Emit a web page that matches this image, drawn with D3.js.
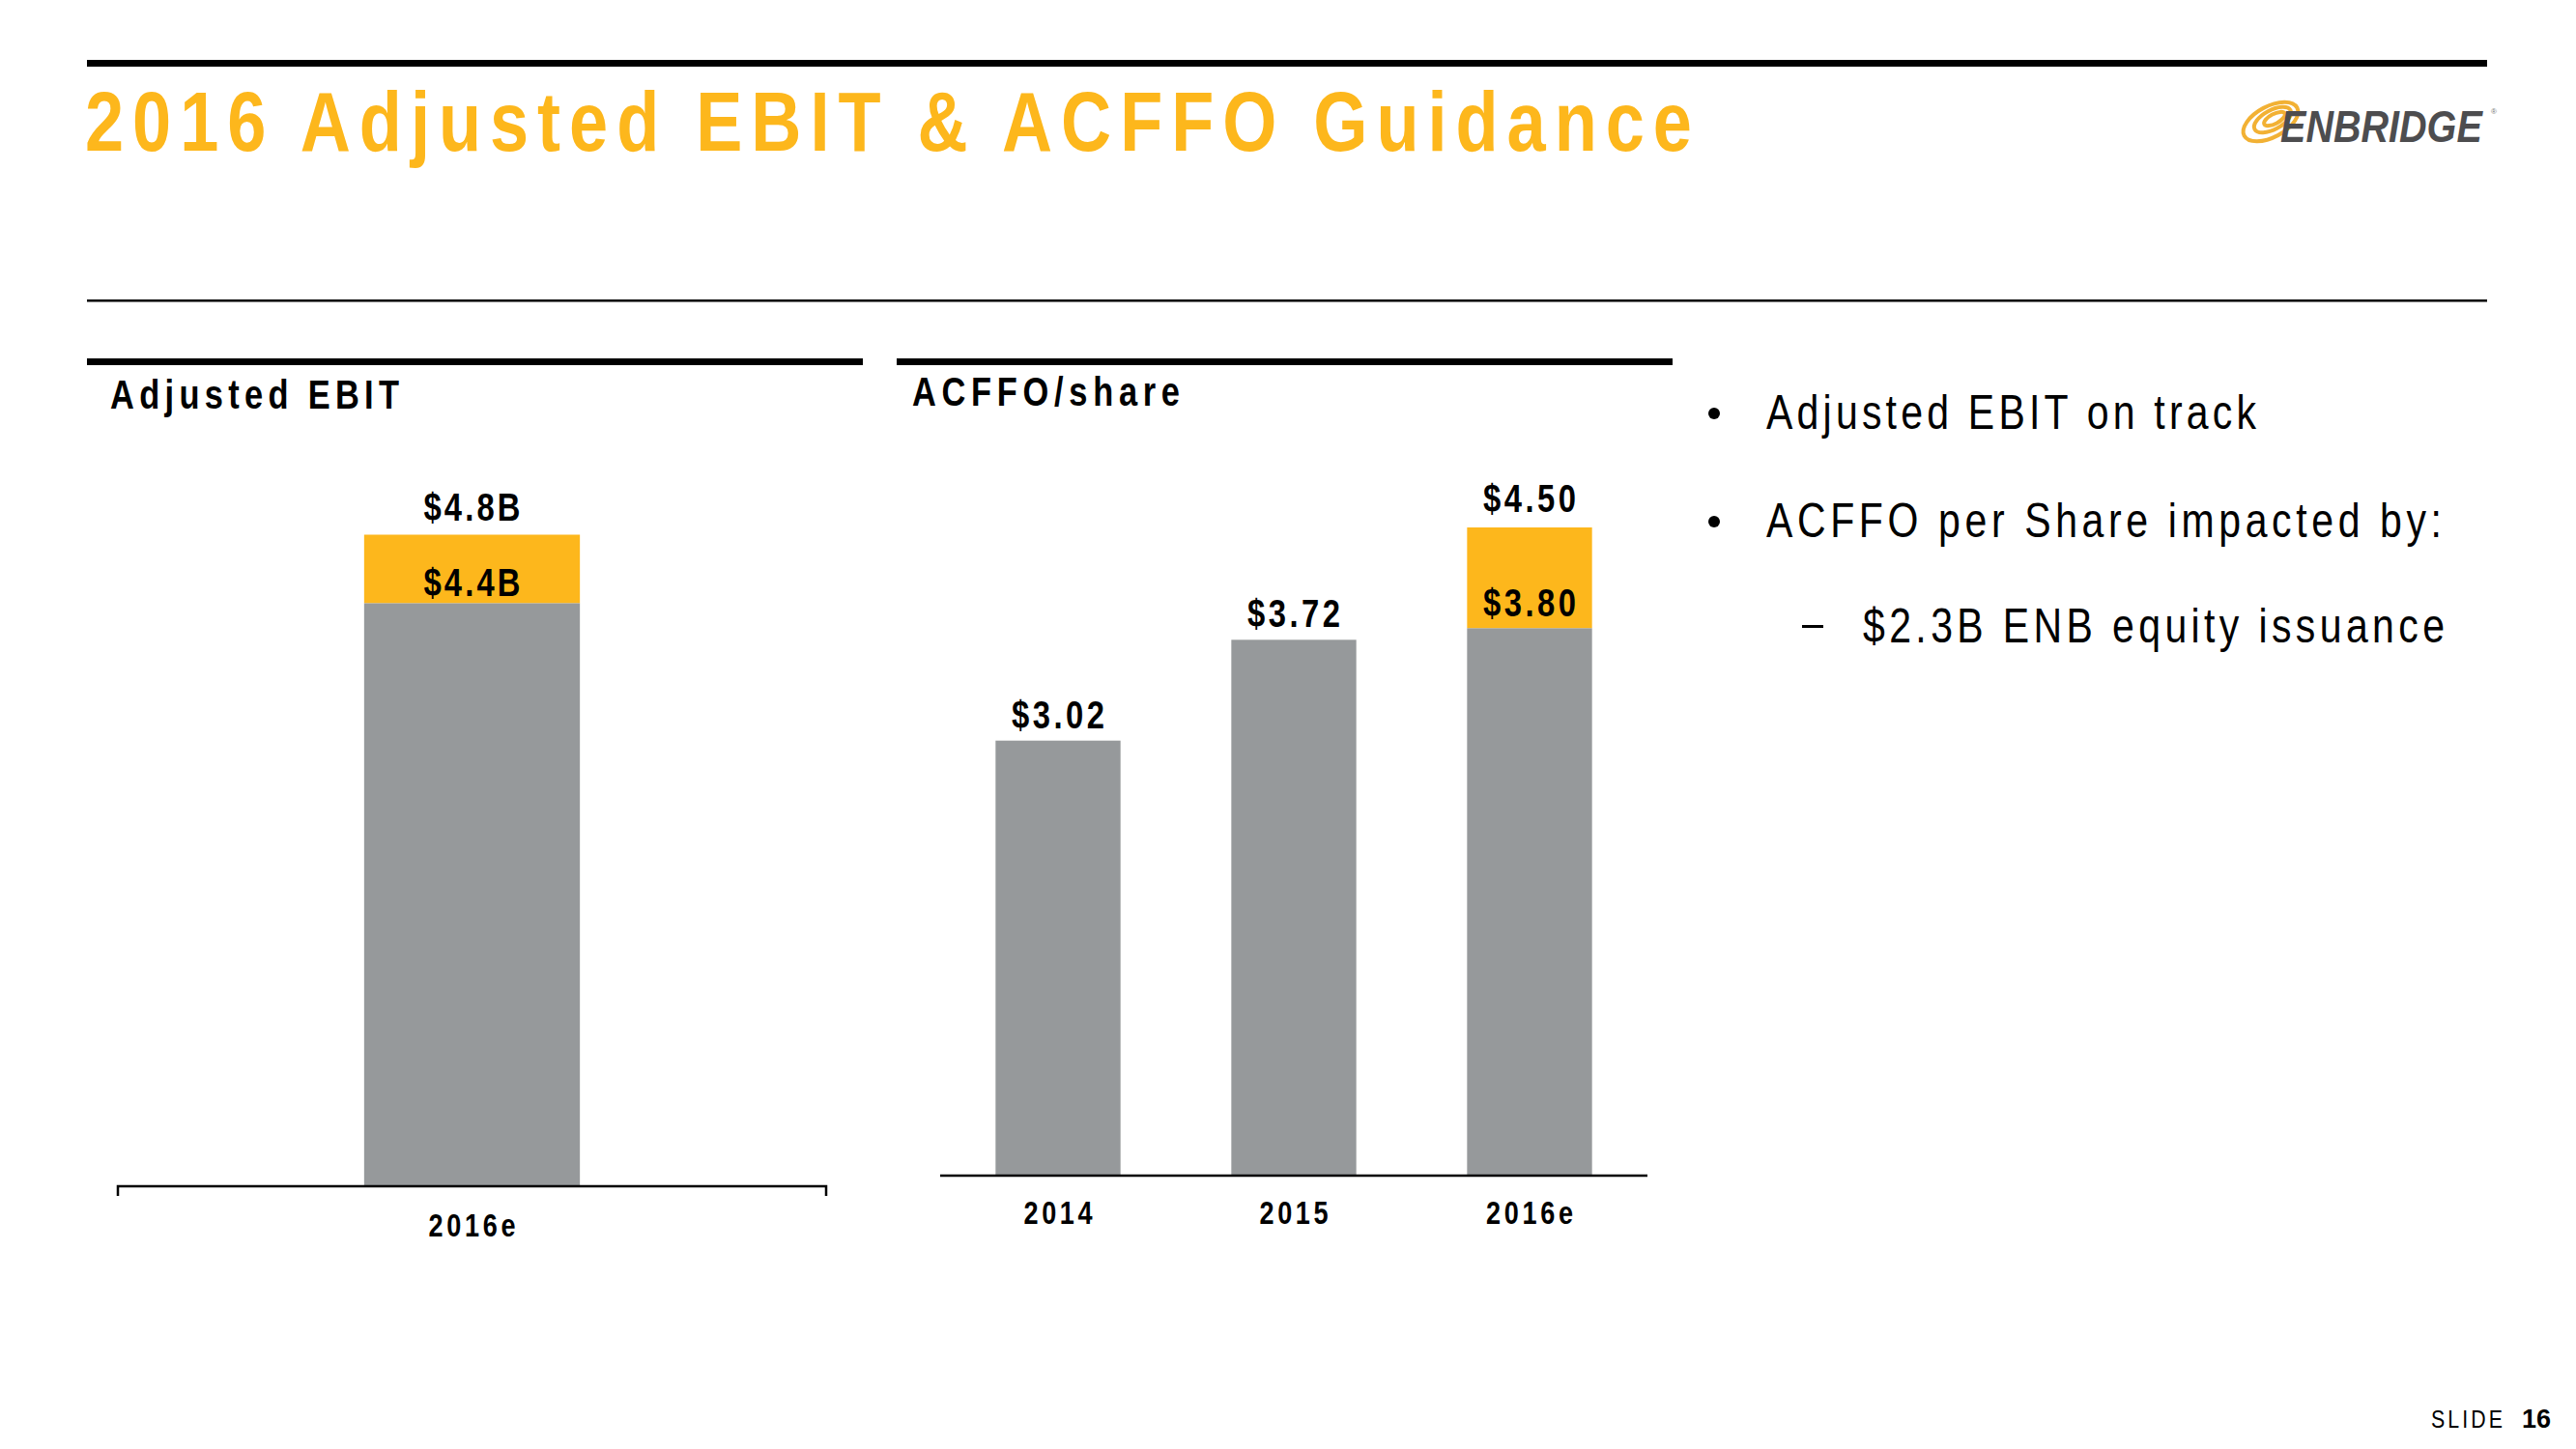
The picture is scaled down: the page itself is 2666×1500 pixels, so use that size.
<!DOCTYPE html>
<html>
<head>
<meta charset="utf-8">
<script src="https://cdn.jsdelivr.net/npm/d3@7"></script>
<style>
  html, body { margin: 0; padding: 0; background: #fff; }
  svg { display: block; }
</style>
</head>
<body>
<svg id="slide"></svg>
<script>
// Adjusted EBIT (billions)
const ebitCategories = ['2016e'];
const ebitLow = [4.4];
const ebitHigh = [4.8];
const ebitLowLabels = ['$4.4B'];
const ebitHighLabels = ['$4.8B'];

// ACFFO per share
const acffoYears = ['2014', '2015', '2016e'];
const acffoBase = [3.02, 3.72, 3.80];
const acffoHigh = [null, null, 4.50];

const bulletLines = ['Adjusted EBIT on track', 'ACFFO per Share impacted by:'];
const subBulletLines = ['$2.3B ENB equity issuance'];

const GOLD = '#FDB71C';
const GRAY = '#96999B';
const FONT = '"Liberation Sans", Arial, sans-serif';
const NARROW = 0.82;

const W = 2666, H = 1500;
const svg = d3.select('#slide').attr('width', W).attr('height', H);

// text in a condensed face with wide tracking, fitted to a width
function spacedText(parent, x, y, text, size, opts = {})
{
    const g = parent.append('g')
        .attr('transform', `translate(${ x },${ y }) scale(${ NARROW },1)`);
    const t = g.append('text')
        .attr('font-family', FONT)
        .attr('font-size', size)
        .attr('font-weight', opts.weight || 'normal')
        .attr('fill', opts.fill || '#000')
        .attr('text-anchor', opts.anchor || 'start')
        .text(text);
    if (opts.width)
    {
        t.attr('textLength', opts.width / NARROW).attr('lengthAdjust', 'spacing');
    }
    return t;
}

// rules
svg.append('rect').attr('x', 90).attr('y', 62).attr('width', 2484).attr('height', 7).attr('fill', '#000');
svg.append('rect').attr('x', 90).attr('y', 310).attr('width', 2484).attr('height', 2.5).attr('fill', '#000');

// title
spacedText(svg, 88, 156, '2016 Adjusted EBIT & ACFFO Guidance', 88, { weight: 'bold', fill: GOLD, width: 1663 });

// logo
const logo = svg.append('g');
[[2350, 126, 31, 16, -28], [2352, 124, 21, 10, -28], [2354, 123, 12, 5, -28]].forEach(([cx, cy, rx, ry, rot]) =>
{
    logo.append('ellipse')
        .attr('cx', cx).attr('cy', cy).attr('rx', rx).attr('ry', ry)
        .attr('transform', `rotate(${ rot },${ cx },${ cy })`)
        .attr('fill', 'none').attr('stroke', '#F2B134').attr('stroke-width', 4);
});
logo.append('g')
    .attr('transform', 'translate(2360,147) scale(0.86,1)')
    .append('text')
    .attr('font-family', FONT).attr('font-size', 46)
    .attr('font-weight', 'bold').attr('font-style', 'italic')
    .attr('fill', '#4D4D4F')
    .text('ENBRIDGE');
logo.append('text')
    .attr('x', 2578).attr('y', 118)
    .attr('font-family', FONT).attr('font-size', 8).attr('fill', '#777')
    .text('®');

// ---------- left chart: Adjusted EBIT ----------
svg.append('rect').attr('x', 90).attr('y', 371).attr('width', 803).attr('height', 7).attr('fill', '#000');
spacedText(svg, 114, 423, 'Adjusted EBIT', 42, { weight: 'bold', width: 299 });

const ebitX = d3.scaleBand().domain(ebitCategories).range([122, 855]).paddingInner(0.533).paddingOuter(0.533);
const ebitY = d3.scaleLinear().domain([1, 4.8]).range([1228, 553.5]);

const leftG = svg.append('g');
leftG.selectAll('rect.high')
    .data(ebitCategories)
    .join('rect')
    .attr('class', 'high')
    .attr('x', d => ebitX(d))
    .attr('width', ebitX.bandwidth())
    .attr('y', (d, i) => ebitY(ebitHigh[i]))
    .attr('height', (d, i) => ebitY(ebitLow[i]) - ebitY(ebitHigh[i]))
    .attr('fill', GOLD);
leftG.selectAll('rect.low')
    .data(ebitCategories)
    .join('rect')
    .attr('class', 'low')
    .attr('x', d => ebitX(d))
    .attr('width', ebitX.bandwidth())
    .attr('y', (d, i) => ebitY(ebitLow[i]))
    .attr('height', (d, i) => ebitY(1) - ebitY(ebitLow[i]))
    .attr('fill', GRAY);

ebitCategories.forEach((d, i) =>
{
    const cx = ebitX(d) + ebitX.bandwidth() / 2;
    spacedText(leftG, cx, ebitY(ebitHigh[i]) - 15, ebitHighLabels[i], 40, { weight: 'bold', anchor: 'middle', width: 100 });
    spacedText(leftG, cx, ebitY(ebitLow[i]) - 8, ebitLowLabels[i], 40, { weight: 'bold', anchor: 'middle', width: 100 });
});

// axis with end ticks
const leftAxis = svg.append('g').attr('transform', `translate(0,${ ebitY(1) })`);
leftAxis.append('path')
    .attr('d', `M122,10V0H855V10`)
    .attr('fill', 'none').attr('stroke', '#000').attr('stroke-width', 2.5);
ebitCategories.forEach(d =>
{
    spacedText(leftAxis, ebitX(d) + ebitX.bandwidth() / 2, 52, d, 33, { weight: 'bold', anchor: 'middle', width: 90 });
});

// ---------- right chart: ACFFO/share ----------
svg.append('rect').attr('x', 928).attr('y', 371).attr('width', 803).attr('height', 7).attr('fill', '#000');
spacedText(svg, 944, 420, 'ACFFO/share', 42, { weight: 'bold', width: 277 });

const acX = d3.scaleBand().domain(acffoYears).range([973, 1705]).paddingInner(0.47).paddingOuter(0.235);
const acY = d3.scaleLinear().domain([0, 4.5]).range([1217, 546]);

const rightG = svg.append('g');
rightG.selectAll('rect.high')
    .data(acffoYears.map((d, i) => ({ year: d, base: acffoBase[i], high: acffoHigh[i] })).filter(d => d.high !== null))
    .join('rect')
    .attr('class', 'high')
    .attr('x', d => acX(d.year))
    .attr('width', acX.bandwidth())
    .attr('y', d => acY(d.high))
    .attr('height', d => acY(d.base) - acY(d.high))
    .attr('fill', GOLD);
rightG.selectAll('rect.base')
    .data(acffoYears)
    .join('rect')
    .attr('class', 'base')
    .attr('x', d => acX(d))
    .attr('width', acX.bandwidth())
    .attr('y', (d, i) => acY(acffoBase[i]))
    .attr('height', (d, i) => acY(0) - acY(acffoBase[i]))
    .attr('fill', GRAY);

acffoYears.forEach((d, i) =>
{
    const cx = acX(d) + acX.bandwidth() / 2;
    if (acffoHigh[i] !== null)
    {
        spacedText(rightG, cx, acY(acffoHigh[i]) - 16, '$' + acffoHigh[i].toFixed(2), 40, { weight: 'bold', anchor: 'middle', width: 96 });
        spacedText(rightG, cx, acY(acffoBase[i]) - 12, '$' + acffoBase[i].toFixed(2), 40, { weight: 'bold', anchor: 'middle', width: 96 });
    }
    else
    {
        spacedText(rightG, cx, acY(acffoBase[i]) - 13, '$' + acffoBase[i].toFixed(2), 40, { weight: 'bold', anchor: 'middle', width: 96 });
    }
});

const rightAxis = svg.append('g').attr('transform', `translate(0,${ acY(0) })`);
rightAxis.append('line')
    .attr('x1', 973).attr('x2', 1705)
    .attr('stroke', '#000').attr('stroke-width', 2.5);
acffoYears.forEach(d =>
{
    spacedText(rightAxis, acX(d) + acX.bandwidth() / 2, 50, d, 33, { weight: 'bold', anchor: 'middle', width: d.length > 4 ? 90 : 71 });
});

// ---------- bullets ----------
const bulletBaselines = [444, 556];
const bulletWidths = [507, 699];
bulletLines.forEach((line, i) =>
{
    svg.append('circle').attr('cx', 1774).attr('cy', bulletBaselines[i] - 16).attr('r', 6).attr('fill', '#000');
    spacedText(svg, 1828, bulletBaselines[i], line, 50, { width: bulletWidths[i] });
});
subBulletLines.forEach((line) =>
{
    svg.append('rect').attr('x', 1865).attr('y', 647).attr('width', 22).attr('height', 3).attr('fill', '#000');
    spacedText(svg, 1928, 665, line, 50, { width: 602 });
});

// slide number
spacedText(svg, 2516, 1478, 'SLIDE', 26, { width: 74 });
svg.append('text')
    .attr('x', 2610).attr('y', 1478)
    .attr('font-family', FONT).attr('font-size', 27).attr('font-weight', 'bold')
    .text('16');
</script>
</body>
</html>
